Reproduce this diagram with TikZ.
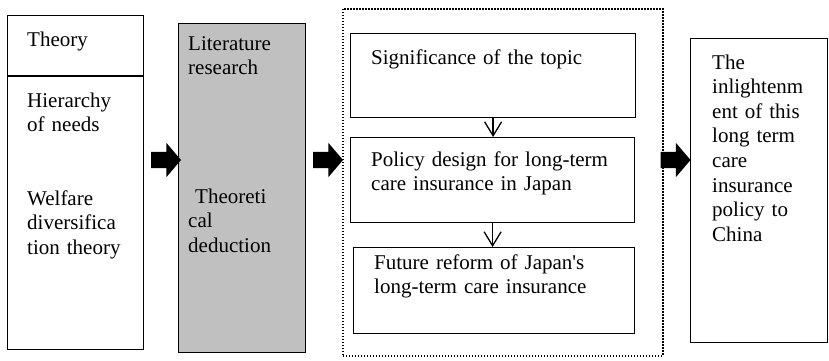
\documentclass[tikz,border=0pt]{standalone}
\usepackage{fontspec}
\setmainfont{Liberation Serif}
\usetikzlibrary{shapes.arrows,arrows.meta}
\definecolor{litgray}{HTML}{C0C0C0}
\tikzstyle{box} = [draw, line width=1.2pt, anchor=north west, inner sep=0pt]
\tikzstyle{txt} = [anchor=base west, inner sep=0pt, text width=125pt, align=left, font=\fontsize{21}{24.6}\selectfont]
\tikzstyle{bigarrow} = [single arrow, fill=black, draw=none, inner xsep=0pt, inner ysep=8pt, minimum height=30pt, single arrow head extend=9pt, single arrow tip angle=99]
\tikzstyle{down} = [line width=1.3pt, -{Straight Barb[length=14pt,width=17pt]}]

\begin{document}
\begin{tikzpicture}[x=1pt, y=-1pt]
\useasboundingbox (0,0) rectangle (829,360);
%begin theory
\node[box, minimum width=136pt, minimum height=334pt] (theory) at (7,15) {};
\draw[line width=1.2pt] (theory.west |- 0,76) -- (theory.east |- 0,76);
\node[txt] (theoryT) at (27,46) {Theory};
\node[txt] (needs) at (27,107) {Hierarchy\\of needs};
\node[txt] (welfare) at (27,205) {Welfare\\diversifica\\tion theory};
%end theory
%begin method
\node[box, fill=litgray, minimum width=127pt, minimum height=329pt] (lit) at (178,23) {};
\node[txt] (litT) at (188,50) {Literature\\research};
\node[txt] (deduct) at (188,203) {\ Theoreti\\cal\\deduction};
%end method
%begin stages
\node[box, dash pattern=on 1.5pt off 1.5pt, line width=1.5pt, minimum width=320pt, minimum height=347pt] (stage) at (342,8) {};
\node[box, minimum width=285pt, minimum height=84pt] (topic) at (350,33) {};
\node[txt, text width=270pt] (topicT) at (371,64) {Significance of the topic};
\node[box, minimum width=284pt, minimum height=85pt] (policy) at (350,137) {};
\node[txt, text width=270pt] (policyT) at (371,166) {Policy design for long-term\\care insurance in Japan};
\node[box, minimum width=281pt, minimum height=86pt] (reform) at (353,247) {};
\node[txt, text width=270pt] (reformT) at (374,269) {Future reform of Japan\textquotesingle s\\long-term care insurance};
\draw[down] (topic.south) -- (topic.south |- policy.north);
\draw[down] (policy.south) -- (policy.south |- reform.north);
%end stages
%begin china
\node[box, minimum width=137pt, minimum height=304pt] (china) at (690,38) {};
\node[txt] (chinaT) at (712,69) {The\\inlightenm\\ent of this\\long term\\care\\insurance\\policy to\\China};
%end china
%big arrows
\node[bigarrow] (a1) at (162.5,160) {};
\node[bigarrow] (a2) at (324.5,160) {};
\node[bigarrow] (a3) at (672,160) {};
\end{tikzpicture}
\end{document}
